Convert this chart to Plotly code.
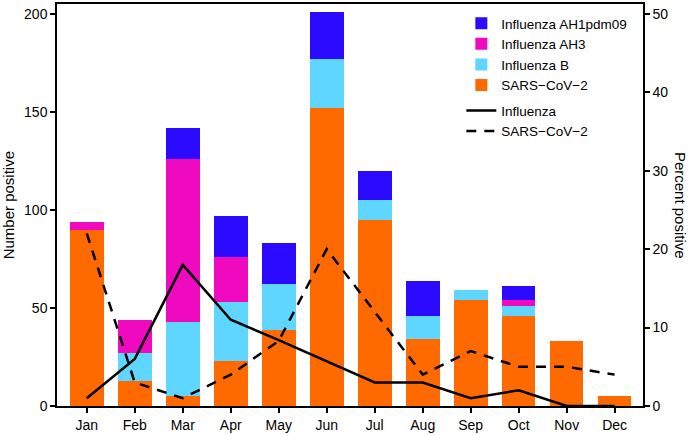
import plotly.graph_objects as go

months = ["Jan", "Feb", "Mar", "Apr", "May", "Jun", "Jul", "Aug", "Sep", "Oct", "Nov", "Dec"]
sars_cov2 = [90, 13, 5, 23, 39, 152, 95, 34, 54, 46, 33, 5]
flu_b = [0, 14, 38, 30, 23, 25, 10, 12, 5, 5, 0, 0]
flu_ah3 = [4, 17, 83, 23, 0, 0, 0, 0, 0, 3, 0, 0]
flu_ah1 = [0, 0, 16, 21, 21, 24, 15, 18, 0, 7, 0, 0]
pct_influenza = [1, 6, 18, 11, 8.4, 5.7, 3, 3, 1, 2, 0, 0]
pct_sars = [22, 3, 1, 4, 8.3, 20, 12, 4, 7, 5, 5, 4]

FONT = "Liberation Sans, Arial, sans-serif"
fig = go.Figure()
bars = [
    ("SARS\u2212CoV\u22122", sars_cov2, "#FF6A00", 4),
    ("Influenza B", flu_b, "#5FD6FF", 3),
    ("Influenza AH3", flu_ah3, "#F00ABF", 2),
    ("Influenza AH1pdm09", flu_ah1, "#2B0AFF", 1),
]
for name, vals, col, rank in bars:
    fig.add_trace(go.Bar(x=months, y=vals, name=name, marker_color=col,
                         marker_line_width=0, width=0.7, legendrank=rank,
                         legendgroup="bars"))

fig.add_trace(go.Scatter(x=months, y=pct_influenza, name="Influenza", mode="lines",
                         line=dict(color="black", width=2.5), yaxis="y2",
                         legendrank=5, legendgroup="lines"))
fig.add_trace(go.Scatter(x=months, y=pct_sars, name="SARS\u2212CoV\u22122", mode="lines",
                         line=dict(color="black", width=2.5, dash="10px,8px"), yaxis="y2",
                         legendrank=6, legendgroup="lines"))

axis_common = dict(showline=True, linecolor="black", linewidth=1.5, ticks="outside",
                   ticklen=5, tickwidth=1.5, tickcolor="black", showgrid=False,
                   zeroline=False, tickfont=dict(size=14, color="black", family=FONT))

fig.update_layout(
    width=689, height=435,
    barmode="stack",
    plot_bgcolor="white", paper_bgcolor="white",
    margin=dict(l=57, r=46, t=2, b=28),
    font=dict(family=FONT, color="black"),
    xaxis=dict(range=[-0.62, 11.59], mirror=True, **axis_common),
    yaxis=dict(range=[0, 205], tickvals=[0, 50, 100, 150, 200], **axis_common),
    yaxis2=dict(range=[0, 51.25], tickvals=[0, 10, 20, 30, 40, 50], overlaying="y",
                side="right", **axis_common),
    legend=dict(x=0.69, y=0.99, xanchor="left", yanchor="top", traceorder="grouped",
                tracegroupgap=5, font=dict(size=13.5, family=FONT, color="black"),
                bgcolor="rgba(0,0,0,0)"),
    showlegend=True,
    annotations=[
        dict(text="Number positive", xref="paper", yref="paper", x=-0.083, y=0.5,
             xanchor="center", yanchor="middle", textangle=-90, showarrow=False,
             font=dict(size=15, family=FONT, color="black")),
        dict(text="Percent positive", xref="paper", yref="paper", x=1.065, y=0.5,
             xanchor="center", yanchor="middle", textangle=90, showarrow=False,
             font=dict(size=15, family=FONT, color="black")),
    ],
)

fig.write_html("out.html", config={"displayModeBar": False},
               post_script="document.body.style.margin='0';document.body.style.padding='0';")
